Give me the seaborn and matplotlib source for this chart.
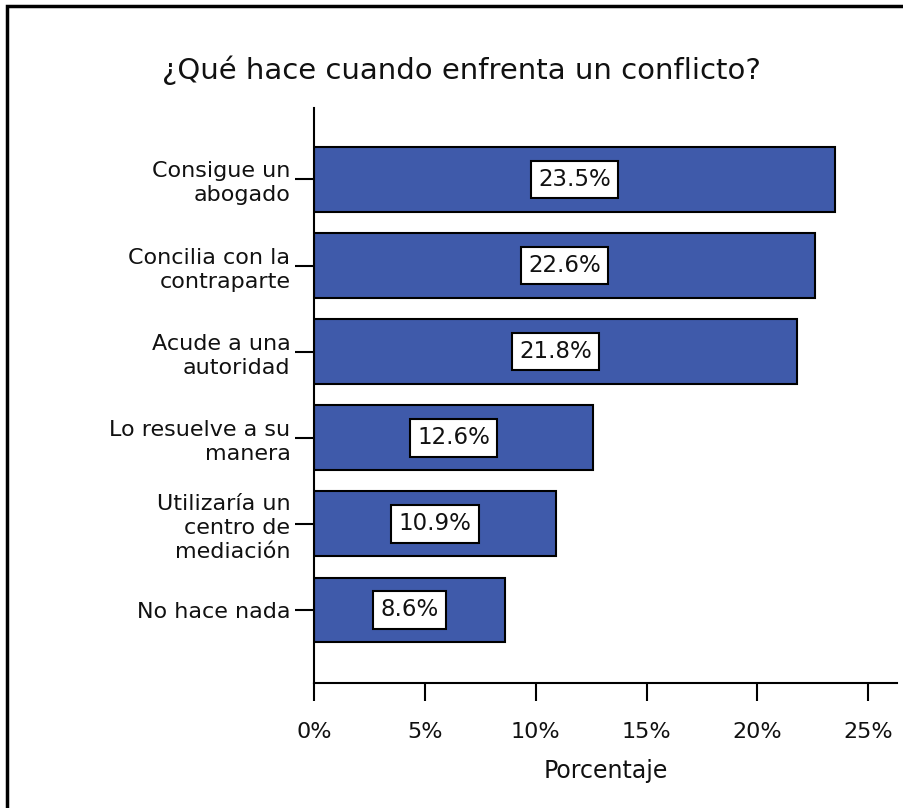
import matplotlib
matplotlib.use("Agg")
import matplotlib.pyplot as plt
import seaborn as sns
import pandas as pd
from matplotlib.patches import Rectangle

categories = ["Consigue un\nabogado", "Concilia con la\ncontraparte", "Acude a una\nautoridad",
              "Lo resuelve a su\nmanera", "Utilizaría un\ncentro de\nmediación", "No hace nada"]
values = [23.5, 22.6, 21.8, 12.6, 10.9, 8.6]
value_labels = ["23.5%", "22.6%", "21.8%", "12.6%", "10.9%", "8.6%"]
xticks = [0, 5, 10, 15, 20, 25]
xtick_labels = ["0%", "5%", "10%", "15%", "20%", "25%"]

sns.set_theme(style="white")
plt.rcParams['font.family'] = ['DejaVu Sans']

df = pd.DataFrame({"cat": categories, "val": values})

fig = plt.figure(figsize=(9.04, 8.08), dpi=100)
ax = fig.add_axes([314/904, 1-683/808, (897-314)/904, (683-108)/808])

sns.barplot(data=df, y="cat", x="val", orient="h", color="#3F5AAA", saturation=1,
            edgecolor="black", linewidth=1.5, width=0.75, ax=ax)

for i, (v, lab) in enumerate(zip(values, value_labels)):
    ax.text(v/2, i, lab, ha="center", va="center", fontsize=16.5, color="#111111",
            bbox=dict(boxstyle="square,pad=0.32", fc="white", ec="black", lw=1.5))

ax.set_xlim(0, 26.3)
ax.set_ylim(5.85, -0.83)
ax.set_xticks(xticks)
ax.set_xticklabels(xtick_labels, fontsize=16, color="#111111")
ax.set_yticks(range(len(categories)))
ax.set_yticklabels(categories, fontsize=16, color="#111111", linespacing=1.25)
ax.set_ylabel("")
ax.set_xlabel("Porcentaje", fontsize=17, color="#111111", labelpad=12)
for s in ["top", "right"]:
    ax.spines[s].set_visible(False)
for s in ["left", "bottom"]:
    ax.spines[s].set_color("black")
    ax.spines[s].set_linewidth(1.5)
ax.tick_params(axis="x", which="both", bottom=True, length=13, width=1.5, color="black", pad=15, direction="out")
ax.tick_params(axis="y", which="both", left=True, length=14, width=1.5, color="black", pad=3)
ax.grid(False)

fig.text(461/904, 1-70/808, "¿Qué hace cuando enfrenta un conflicto?", ha="center", va="center",
         fontsize=21, color="#111111")

fig.patches.append(Rectangle((7/904, -0.5), 2, 1.5-6/808, transform=fig.transFigure, fill=False,
                             ec="black", lw=2.5, zorder=10))

fig.savefig("out.png", dpi=100)
